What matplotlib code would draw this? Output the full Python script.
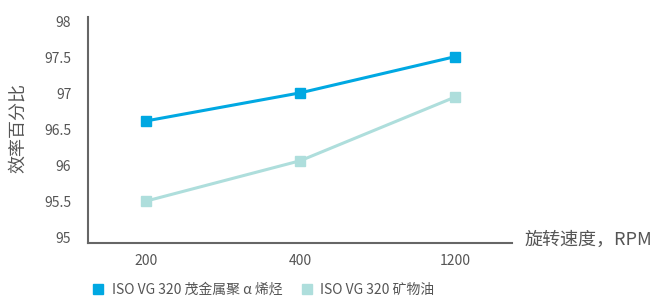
import matplotlib
matplotlib.use('Agg')
import matplotlib.pyplot as plt
from matplotlib.lines import Line2D

plt.rcParams['font.family'] = ['Noto Sans CJK SC', 'DejaVu Sans']

# Data
speeds = ['200', '400', '1200']
pao = [96.62, 97.01, 97.51]
mineral = [95.51, 96.07, 96.95]
yticks = [95, 95.5, 96, 96.5, 97, 97.5, 98]
ytick_labels = ['95', '95.5', '96', '96.5', '97', '97.5', '98']
names = ['ISO VG 320 茂金属聚 α 烯烃', 'ISO VG 320 矿物油']

c1 = '#00A8E2'
c2 = '#AEDEDC'
txt = '#555555'
axc = '#666666'

fig = plt.figure(figsize=(6.6, 3.0), dpi=100)
ax = fig.add_axes([88/660, 1 - 243/300, (512 - 88)/660, (243 - 17)/300])

x = list(range(len(speeds)))
ax.plot(x, mineral, color=c2, lw=2.2, marker='s', markersize=7.5, zorder=3)
ax.plot(x, pao, color=c1, lw=2.2, marker='s', markersize=7.5, zorder=3)

ax.set_xlim(-0.375, 2.37)
ax.set_ylim(94.93, 98.06)
ax.set_xticks(x)
ax.set_xticklabels(speeds)
ax.set_yticks(yticks)
ax.set_yticklabels(ytick_labels)
ax.tick_params(length=0, colors=txt, labelsize=10)
ax.tick_params(axis='x', pad=8)
ax.tick_params(axis='y', pad=12)

for s in ['top', 'right']:
    ax.spines[s].set_visible(False)
for s in ['left', 'bottom']:
    ax.spines[s].set_color(axc)
    ax.spines[s].set_linewidth(1.5)

fig.text(18/660, 1 - 128/300, '效率百分比', rotation=90, ha='center', va='center',
         fontsize=13, color=txt)
fig.text(525/660, 1 - 240/300, '旋转速度，RPM', ha='left', va='center',
         fontsize=13, color=txt)

handles = [Line2D([], [], color=c1, marker='s', linestyle='none', markersize=7.5),
           Line2D([], [], color=c2, marker='s', linestyle='none', markersize=7.5)]
leg = fig.legend(handles, names, loc='center left', bbox_to_anchor=(79/660, 10/300),
                 ncol=2, frameon=False, fontsize=10, handlelength=1.0,
                 handletextpad=0.5, columnspacing=1.2)
for t in leg.get_texts():
    t.set_color(txt)

fig.savefig('out.png', dpi=100)
